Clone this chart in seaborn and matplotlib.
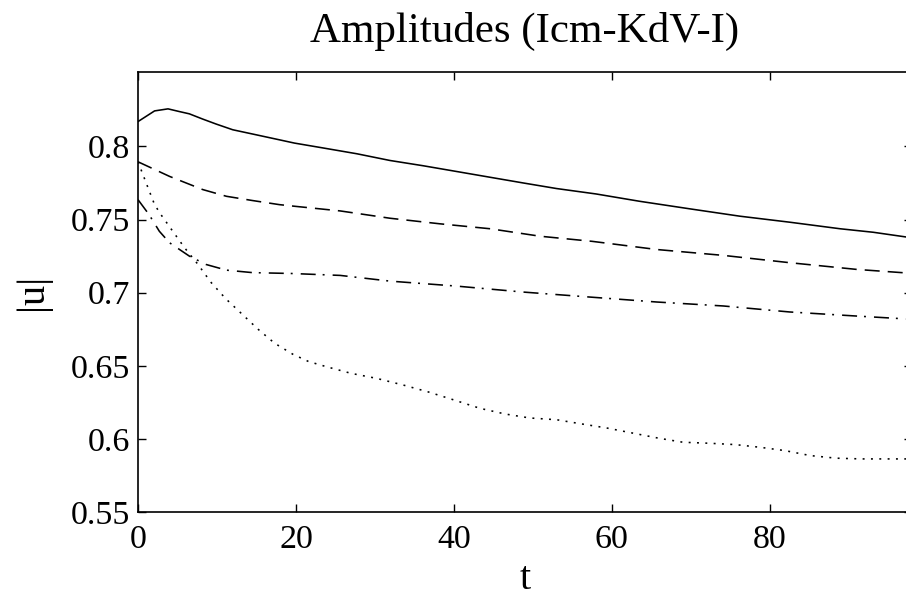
import numpy as np
import pandas as pd
import matplotlib
matplotlib.use("Agg")
import matplotlib.pyplot as plt
import seaborn as sns

# ---- data ----
t_solid = [0, 2.1, 3.8, 5.2, 6.5, 8.2, 9.9, 12, 14.5, 17.5, 19.8, 23.5, 27.7, 31.9,
           36.1, 40.3, 44.6, 48.8, 53, 58, 63.5, 69.9, 76.2, 82.5, 88.9, 93.1, 98]
v_solid = [0.817, 0.8243, 0.8257, 0.8239, 0.8223, 0.8187, 0.8153, 0.8114, 0.8085,
           0.805, 0.8023, 0.7989, 0.795, 0.7904, 0.7868, 0.7829, 0.7789, 0.775,
           0.7712, 0.7675, 0.7625, 0.7573, 0.7523, 0.7482, 0.7437, 0.7413, 0.7375]

t_dash = [0, 4, 6.1, 8.2, 11.2, 14.5, 17.9, 19.8, 25.6, 31.9, 38.2, 44.6, 50.9,
          57.5, 65.7, 74.1, 82.5, 91, 98]
v_dash = [0.7895, 0.7795, 0.775, 0.7705, 0.7659, 0.763, 0.7602, 0.7591, 0.7559,
          0.7509, 0.7471, 0.7437, 0.7386, 0.7351, 0.7295, 0.7255, 0.7205, 0.7159,
          0.7132]

t_dashdot = [0, 1.4, 2.7, 4, 6.5, 8.6, 11.2, 14.5, 19.5, 25.6, 31.9, 40.3, 48.8,
             57.2, 65.7, 74.1, 82.5, 91, 98]
v_dashdot = [0.7636, 0.7534, 0.742, 0.7341, 0.725, 0.7193, 0.7154, 0.7137, 0.7131,
             0.7118, 0.7079, 0.7045, 0.7004, 0.697, 0.6936, 0.6909, 0.6868, 0.684,
             0.6818]

t_dot = [0, 1.2, 2.1, 2.9, 4.4, 5.9, 7.6, 9.2, 11.1, 13.2, 15.2, 17.3, 19.6, 21.6,
         23.9, 27, 30.2, 33.6, 36.7, 39.9, 43.3, 46.5, 49.6, 53, 56.2, 59.3, 62.7,
         65.9, 69, 72.4, 75.6, 78.7, 81.9, 85.1, 88.4, 91.6, 98]
v_dot = [0.7895, 0.7727, 0.7602, 0.7534, 0.742, 0.7307, 0.7193, 0.7073, 0.6959,
         0.6852, 0.675, 0.6654, 0.6579, 0.6529, 0.6493, 0.6448, 0.6414, 0.6368,
         0.6322, 0.6268, 0.6209, 0.617, 0.6143, 0.6131, 0.6102, 0.6075, 0.6039,
         0.6005, 0.5977, 0.597, 0.5961, 0.5943, 0.592, 0.5886, 0.5868, 0.5863,
         0.5863]

x_ticks = [0, 20, 40, 60, 80]
x_tick_labels = ["0", "20", "40", "60", "80"]
y_ticks = [0.55, 0.6, 0.65, 0.7, 0.75, 0.8]
y_tick_labels = ["0.55", "0.6", "0.65", "0.7", "0.75", "0.8"]

title = "Amplitudes (Icm-KdV-I)"
xlabel = "t"
ylabel = "|u|"

# ---- style ----
sns.set_style("ticks")
plt.rcParams["font.family"] = ["Liberation Serif", "DejaVu Serif"]
plt.rcParams["lines.scale_dashes"] = False
plt.rcParams["text.color"] = "black"
plt.rcParams["axes.labelcolor"] = "black"
plt.rcParams["axes.edgecolor"] = "black"

fig = plt.figure(figsize=(9.06, 6.03), dpi=100)
ax = fig.add_axes([138 / 906, 1 - 512 / 603, (912 - 138) / 906, (512 - 72.3) / 603])

lw = 1.15
series = [
    (t_solid, v_solid, "-"),
    (t_dash, v_dash, (0, (10.8, 5.8))),
    (t_dashdot, v_dashdot, (0, (10.8, 5.0, 1.4, 5.8))),
    (t_dot, v_dot, (0, (1.4, 4.6))),
]
for tt, vv, ls in series:
    df = pd.DataFrame({"t": tt, "u": vv})
    sns.lineplot(data=df, x="t", y="u", ax=ax, color="black", linewidth=lw,
                 linestyle=ls, sort=False)

ax.set_xlim(0, 98)
ax.set_ylim(0.55, 0.8507)
ax.set_xticks(x_ticks)
ax.set_xticklabels(x_tick_labels)
ax.set_yticks(y_ticks)
ax.set_yticklabels(y_tick_labels)

ax.tick_params(direction="in", length=6, width=1.0, top=True, right=True,
               labelsize=24.5, colors="black")
ax.tick_params(axis="x", pad=9)
ax.tick_params(axis="y", pad=6)
for s in ax.spines.values():
    s.set_visible(True)
    s.set_linewidth(1.2)
    s.set_color("black")

ax.set_title(title, fontsize=31, pad=22, color="black")
ax.set_xlabel(xlabel, fontsize=29, labelpad=4)
ax.set_ylabel(ylabel, fontsize=29, labelpad=14)

fig.savefig("out.png", dpi=100)
